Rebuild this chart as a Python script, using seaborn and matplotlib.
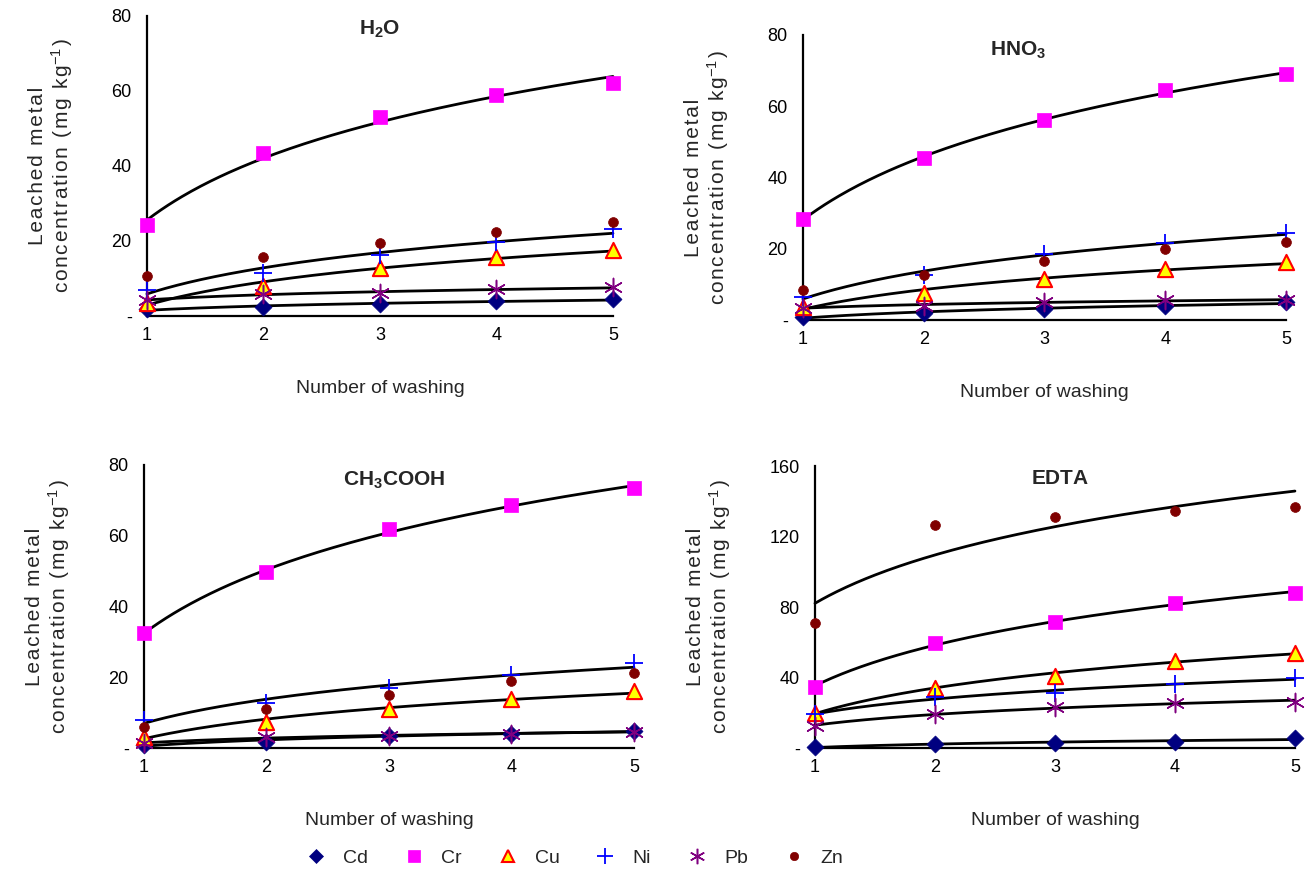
import numpy as np
import pandas as pd
import matplotlib
matplotlib.use("Agg")
import matplotlib.pyplot as plt
import seaborn as sns
from matplotlib.lines import Line2D
from matplotlib.ticker import FuncFormatter

sns.set_theme(style="white")
plt.rcParams['font.family'] = ['Liberation Sans', 'DejaVu Sans']
plt.rcParams['mathtext.fontset'] = 'custom'
plt.rcParams['mathtext.rm'] = 'Liberation Sans'
plt.rcParams['mathtext.bf'] = 'Liberation Sans:bold'
plt.rcParams['mathtext.it'] = 'Liberation Sans:italic'

washing = [1, 2, 3, 4, 5]
metals = ["Cd", "Cr", "Cu", "Ni", "Pb", "Zn"]

# H2O
h2o_cd = [1.8, 2.3, 3.1, 4.0, 4.5]
h2o_cr = [24.3, 43.5, 53.0, 59.0, 62.0]
h2o_cu = [3.5, 8.0, 12.7, 15.6, 17.6]
h2o_ni = [6.9, 11.4, 16.3, 19.8, 23.1]
h2o_pb = [4.3, 5.8, 6.2, 7.1, 7.6]
h2o_zn = [10.7, 15.8, 19.4, 22.3, 25.1]
# HNO3
hno3_cd = [0.8, 2.0, 3.0, 3.9, 5.1]
hno3_cr = [28.3, 45.5, 56.1, 64.6, 69.0]
hno3_cu = [3.7, 7.5, 11.4, 14.2, 16.4]
hno3_ni = [6.5, 12.6, 18.4, 21.7, 24.3]
hno3_pb = [3.5, 3.9, 5.1, 5.6, 5.6]
hno3_zn = [8.4, 12.6, 16.6, 19.8, 22.0]
# CH3COOH
ch3_cd = [0.8, 1.8, 3.4, 4.0, 4.9]
ch3_cr = [32.4, 49.8, 61.9, 68.7, 73.5]
ch3_cu = [3.2, 7.4, 10.9, 13.8, 16.1]
ch3_ni = [7.9, 12.6, 17.0, 20.6, 23.9]
ch3_pb = [1.3, 3.2, 3.4, 4.0, 4.6]
ch3_zn = [6.0, 10.9, 15.0, 18.8, 21.1]
# EDTA
edta_cd = [0.4, 2.3, 3.0, 3.6, 5.5]
edta_cr = [34.8, 59.4, 71.3, 82.1, 88.1]
edta_cu = [20.0, 33.9, 41.0, 49.4, 54.1]
edta_ni = [19.3, 28.8, 31.0, 36.1, 39.9]
edta_pb = [12.5, 19.3, 23.5, 25.3, 26.3]
edta_zn = [71.1, 126.4, 131.1, 134.5, 136.9]

panel_titles = [r"$\mathbf{H_2O}$", r"$\mathbf{HNO_3}$", r"$\mathbf{CH_3COOH}$", r"$\mathbf{EDTA}$"]
panel_data = [
    dict(zip(metals, [h2o_cd, h2o_cr, h2o_cu, h2o_ni, h2o_pb, h2o_zn])),
    dict(zip(metals, [hno3_cd, hno3_cr, hno3_cu, hno3_ni, hno3_pb, hno3_zn])),
    dict(zip(metals, [ch3_cd, ch3_cr, ch3_cu, ch3_ni, ch3_pb, ch3_zn])),
    dict(zip(metals, [edta_cd, edta_cr, edta_cu, edta_ni, edta_pb, edta_zn])),
]
trend_series = [
    ["Cr", "Ni", "Cu", "Pb", "Cd"],
    ["Cr", "Ni", "Cu", "Pb", "Cd"],
    ["Cr", "Ni", "Cu", "Pb", "Cd"],
    ["Zn", "Cr", "Cu", "Ni", "Pb", "Cd"],
]
y_ticks = [[0, 20, 40, 60, 80]] * 3 + [[0, 40, 80, 120, 160]]

styles = {
    "Cd": dict(marker="D", color="#000080", edgecolor="#000080", s=75, lw=0.5),
    "Cr": dict(marker="s", color="#FF00FF", edgecolor="#FF00FF", s=115, lw=0.5),
    "Cu": dict(marker="^", color="#FFFF00", edgecolor="#FF0000", s=120, lw=1.5),
    "Ni": dict(marker="+", color="#0000FF", edgecolor="#0000FF", s=170, lw=1.3),
    "Pb": dict(marker=(6, 2, 0), color="#800080", edgecolor="#800080", s=170, lw=1.1),
    "Zn": dict(marker="o", color="#800000", edgecolor="#800000", s=50, lw=0.5),
}

positions = [
    [0.1126, 0.6397, 0.3571, 0.3421],
    [0.6153, 0.6351, 0.3701, 0.3250],
    [0.1103, 0.1471, 0.3755, 0.3227],
    [0.6245, 0.1471, 0.3678, 0.3215],
]
title_pos = [(0.5, 0.99), (0.445, 0.985), (0.51, 0.985), (0.51, 0.99)]

def spaced(s):
    return "\u200a".join(list(s))

ylab = spaced("Leached metal") + "\n" + spaced("concentration (mg kg") + "$^{-1}$" + "\u200a)"

fig = plt.figure(figsize=(13.05, 8.77), dpi=100)
xs = np.linspace(1, 5, 200)

for i in range(4):
    ax = fig.add_axes(positions[i])
    data = panel_data[i]
    for m in trend_series[i]:
        a, b = np.polyfit(np.log(washing), data[m], 1)
        fit = pd.DataFrame({"x": xs, "y": a * np.log(xs) + b})
        sns.lineplot(data=fit, x="x", y="y", ax=ax, color="black", lw=2.0,
                     clip_on=False, zorder=2)
    for m in metals:
        st = styles[m]
        df = pd.DataFrame({"x": washing, "y": data[m]})
        sns.scatterplot(data=df, x="x", y="y", ax=ax, marker=st["marker"],
                        color=st["color"], edgecolor=st["edgecolor"],
                        s=st["s"], linewidth=st["lw"], clip_on=False, zorder=3)
    ax.set_xlim(1, 5)
    ax.set_ylim(y_ticks[i][0], y_ticks[i][-1])
    ax.set_xticks(washing)
    ax.set_yticks(y_ticks[i])
    ax.yaxis.set_major_formatter(FuncFormatter(lambda v, p: "-" if v == 0 else f"{v:g}"))
    for s in ["top", "right"]:
        ax.spines[s].set_visible(False)
    for s in ["left", "bottom"]:
        ax.spines[s].set_linewidth(1.6)
        ax.spines[s].set_color("black")
    ax.tick_params(axis="both", direction="out", length=6, width=1.6,
                   colors="black", labelsize=13, pad=5)
    ax.tick_params(axis="x", pad=2)
    ax.set_xlabel("Number of washing", fontsize=14, labelpad=26)
    ax.set_ylabel(ylab, fontsize=15, labelpad=26, linespacing=1.1)
    ax.text(title_pos[i][0], title_pos[i][1], panel_titles[i],
            transform=ax.transAxes, ha="center", va="top",
            fontsize=15, fontweight="bold")
    ax.set_facecolor("white")

handles = []
for m in metals:
    st = styles[m]
    handles.append(Line2D([], [], linestyle="none", marker=st["marker"],
                          markerfacecolor=st["color"], markeredgecolor=st["edgecolor"],
                          color=st["color"], markersize=np.sqrt(st["s"]) * 0.85,
                          markeredgewidth=st["lw"]))
fig.legend(handles, metals, loc="center", bbox_to_anchor=(0.4406, 0.022), ncol=6,
           frameon=False, fontsize=14, columnspacing=1.85, handlelength=1.0,
           handletextpad=0.9)

fig.savefig("out.png", dpi=100, facecolor="white")
